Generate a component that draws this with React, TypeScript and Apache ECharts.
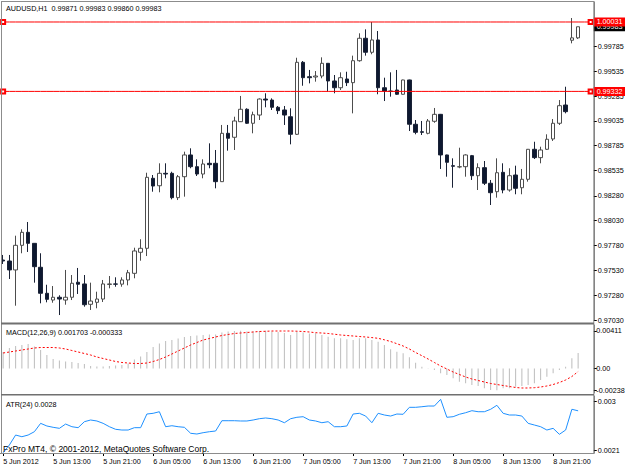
import React, { useEffect, useRef } from 'react';
import * as echarts from 'echarts';

const barTimes = [
  '5 Jun 05:00', '5 Jun 06:00', '5 Jun 07:00', '5 Jun 08:00', '5 Jun 09:00', '5 Jun 10:00', '5 Jun 11:00', '5 Jun 12:00',
  '5 Jun 13:00', '5 Jun 14:00', '5 Jun 15:00', '5 Jun 16:00', '5 Jun 17:00', '5 Jun 18:00', '5 Jun 19:00', '5 Jun 20:00',
  '5 Jun 21:00', '5 Jun 22:00', '5 Jun 23:00', '6 Jun 00:00', '6 Jun 01:00', '6 Jun 02:00', '6 Jun 03:00', '6 Jun 04:00',
  '6 Jun 05:00', '6 Jun 06:00', '6 Jun 07:00', '6 Jun 08:00', '6 Jun 09:00', '6 Jun 10:00', '6 Jun 11:00', '6 Jun 12:00',
  '6 Jun 13:00', '6 Jun 14:00', '6 Jun 15:00', '6 Jun 16:00', '6 Jun 17:00', '6 Jun 18:00', '6 Jun 19:00', '6 Jun 20:00',
  '6 Jun 21:00', '6 Jun 22:00', '6 Jun 23:00', '7 Jun 00:00', '7 Jun 01:00', '7 Jun 02:00', '7 Jun 03:00', '7 Jun 04:00',
  '7 Jun 05:00', '7 Jun 06:00', '7 Jun 07:00', '7 Jun 08:00', '7 Jun 09:00', '7 Jun 10:00', '7 Jun 11:00', '7 Jun 12:00',
  '7 Jun 13:00', '7 Jun 14:00', '7 Jun 15:00', '7 Jun 16:00', '7 Jun 17:00', '7 Jun 18:00', '7 Jun 19:00', '7 Jun 20:00',
  '7 Jun 21:00', '7 Jun 22:00', '7 Jun 23:00', '8 Jun 00:00', '8 Jun 01:00', '8 Jun 02:00', '8 Jun 03:00', '8 Jun 04:00',
  '8 Jun 05:00', '8 Jun 06:00', '8 Jun 07:00', '8 Jun 08:00', '8 Jun 09:00', '8 Jun 10:00', '8 Jun 11:00', '8 Jun 12:00',
  '8 Jun 13:00', '8 Jun 14:00', '8 Jun 15:00', '8 Jun 16:00', '8 Jun 17:00', '8 Jun 18:00', '8 Jun 19:00', '8 Jun 20:00',
  '8 Jun 21:00', '8 Jun 22:00', '8 Jun 23:00', '11 Jun 00:00', '11 Jun 01:00',
];

const dateTickLabels = [
  '5 Jun 2012', '5 Jun 13:00', '5 Jun 21:00', '6 Jun 05:00', '6 Jun 13:00', '6 Jun 21:00',
  '7 Jun 05:00', '7 Jun 13:00', '7 Jun 21:00', '8 Jun 05:00', '8 Jun 13:00', '8 Jun 21:00',
];

const opens = [
  0.97634, 0.97624, 0.97534, 0.97782, 0.97913, 0.97802, 0.97561, 0.97299, 0.97231, 0.97259,
  0.97231, 0.97259, 0.97410, 0.97393, 0.97188, 0.97208, 0.97241, 0.97388, 0.97393, 0.97391,
  0.97433, 0.97500, 0.97712, 0.97752, 0.98457, 0.98382, 0.98507, 0.98507, 0.98262, 0.98473,
  0.98692, 0.98574, 0.98500, 0.98608, 0.98608, 0.98423, 0.98910, 0.98870, 0.99027, 0.99152,
  0.99011, 0.99094, 0.99255, 0.99245, 0.99172, 0.99145, 0.99077, 0.98900, 0.99625, 0.99480,
  0.99477, 0.99487, 0.99615, 0.99437, 0.99369, 0.99457, 0.99420, 0.99641, 0.99867, 0.99726,
  0.99850, 0.99369, 0.99336, 0.99346, 0.99303, 0.99447, 0.99001, 0.98926, 0.98910, 0.99031,
  0.99101, 0.98692, 0.98584, 0.98571, 0.98574, 0.98685, 0.98483, 0.98564, 0.98407, 0.98322,
  0.98517, 0.98339, 0.98490, 0.98362, 0.98447, 0.98749, 0.98665, 0.98749, 0.98853, 0.99011,
  0.99195, 0.99847, 0.99871,
];

const highs = [
  0.97685, 0.97685, 0.97879, 0.97943, 0.98017, 0.97805, 0.97702, 0.97385, 0.97372, 0.97279,
  0.97534, 0.97483, 0.97554, 0.97483, 0.97406, 0.97315, 0.97433, 0.97473, 0.97460, 0.97460,
  0.97534, 0.97758, 0.97843, 0.98513, 0.98490, 0.98608, 0.98608, 0.98523, 0.98490, 0.98725,
  0.98759, 0.98648, 0.98648, 0.98809, 0.98742, 0.98994, 0.98994, 0.99077, 0.99286, 0.99162,
  0.99128, 0.99262, 0.99313, 0.99262, 0.99185, 0.99185, 0.99162, 0.99671, 0.99638, 0.99548,
  0.99537, 0.99675, 0.99615, 0.99497, 0.99524, 0.99530, 0.99692, 0.99917, 0.99957, 1.00031,
  0.99940, 0.99470, 0.99524, 0.99548, 0.99450, 0.99450, 0.99044, 0.99034, 0.99054, 0.99165,
  0.99105, 0.98695, 0.98658, 0.98765, 0.98699, 0.98692, 0.98608, 0.98631, 0.98440, 0.98658,
  0.98608, 0.98558, 0.98584, 0.98551, 0.98752, 0.98825, 0.98775, 0.98900, 0.99054, 0.99245,
  0.99379, 1.00071, 0.99983,
];

const lows = [
  0.97594, 0.97443, 0.97174, 0.97702, 0.97715, 0.97406, 0.97198, 0.97208, 0.97204, 0.97080,
  0.97184, 0.97231, 0.97292, 0.97164, 0.97131, 0.97148, 0.97211, 0.97349, 0.97365, 0.97365,
  0.97379, 0.97450, 0.97627, 0.97674, 0.98322, 0.98316, 0.98457, 0.98245, 0.98238, 0.98272,
  0.98558, 0.98480, 0.98457, 0.98558, 0.98356, 0.98420, 0.98735, 0.98742, 0.99024, 0.99004,
  0.98910, 0.99044, 0.99172, 0.99145, 0.99104, 0.98994, 0.98799, 0.98893, 0.99389, 0.99413,
  0.99430, 0.99464, 0.99329, 0.99313, 0.99346, 0.99386, 0.99111, 0.99631, 0.99692, 0.99706,
  0.99303, 0.99235, 0.99279, 0.99296, 0.99300, 0.98933, 0.98900, 0.98893, 0.98900, 0.99016,
  0.98551, 0.98473, 0.98362, 0.98558, 0.98473, 0.98440, 0.98339, 0.98389, 0.98188, 0.98262,
  0.98306, 0.98322, 0.98296, 0.98296, 0.98423, 0.98651, 0.98608, 0.98742, 0.98833, 0.98994,
  0.99111, 0.99816, 0.99860,
];

const closes = [
  0.97624, 0.97534, 0.97782, 0.97913, 0.97802, 0.97567, 0.97299, 0.97238, 0.97259, 0.97241,
  0.97259, 0.97400, 0.97390, 0.97184, 0.97221, 0.97241, 0.97393, 0.97393, 0.97391, 0.97433,
  0.97506, 0.97725, 0.97752, 0.98467, 0.98379, 0.98507, 0.98500, 0.98262, 0.98473, 0.98692,
  0.98574, 0.98500, 0.98601, 0.98594, 0.98423, 0.98910, 0.98860, 0.99034, 0.99152, 0.99011,
  0.99097, 0.99255, 0.99245, 0.99172, 0.99138, 0.99094, 0.98900, 0.99625, 0.99470, 0.99470,
  0.99487, 0.99615, 0.99437, 0.99369, 0.99470, 0.99420, 0.99641, 0.99867, 0.99726, 0.99850,
  0.99369, 0.99336, 0.99331, 0.99303, 0.99447, 0.99001, 0.98920, 0.98920, 0.99034, 0.99101,
  0.98692, 0.98618, 0.98578, 0.98574, 0.98692, 0.98483, 0.98564, 0.98407, 0.98312, 0.98513,
  0.98339, 0.98483, 0.98356, 0.98447, 0.98749, 0.98665, 0.98742, 0.98850, 0.99011, 0.99188,
  0.99128, 0.99871, 0.99983,
];

const macdMain = [
  0.00180, 0.00224, 0.00245, 0.00256, 0.00267, 0.00240, 0.00202, 0.00147, 0.00104, 0.00087,
  0.00076, 0.00071, 0.00060, 0.00049, 0.00027, 0.00022, 0.00022, 0.00027, 0.00033, 0.00038,
  0.00055, 0.00098, 0.00131, 0.00180, 0.00235, 0.00273, 0.00300, 0.00311, 0.00327, 0.00344,
  0.00355, 0.00360, 0.00365, 0.00371, 0.00371, 0.00393, 0.00404, 0.00409, 0.00411, 0.00405,
  0.00406, 0.00410, 0.00411, 0.00405, 0.00398, 0.00387, 0.00365, 0.00404, 0.00393, 0.00382,
  0.00384, 0.00365, 0.00347, 0.00329, 0.00329, 0.00319, 0.00311, 0.00329, 0.00329, 0.00311,
  0.00292, 0.00256, 0.00209, 0.00183, 0.00166, 0.00122, 0.00063, 0.00020, 0.00002, -0.00016,
  -0.00052, -0.00071, -0.00107, -0.00144, -0.00161, -0.00180, -0.00191, -0.00216, -0.00235, -0.00238,
  -0.00216, -0.00216, -0.00199, -0.00191, -0.00180, -0.00161, -0.00125, -0.00089, -0.00052, -0.00016,
  0.00020, 0.00111, 0.001703,
];

const macdSignal = [
  0.001691, 0.001800, 0.001909, 0.002018, 0.002127, 0.002237, 0.002291, 0.002291, 0.002291, 0.002237,
  0.002127, 0.001964, 0.001800, 0.001637, 0.001473, 0.001255, 0.001091, 0.000927, 0.000764, 0.000655,
  0.000600, 0.000546, 0.000546, 0.000600, 0.000764, 0.000982, 0.001255, 0.001582, 0.001909, 0.002237,
  0.002564, 0.002837, 0.003109, 0.003273, 0.003437, 0.003600, 0.003709, 0.003819, 0.003873, 0.003928,
  0.003982, 0.004037, 0.004059, 0.004091, 0.004091, 0.004091, 0.004091, 0.004069, 0.004037, 0.003982,
  0.003906, 0.003873, 0.003819, 0.003742, 0.003655, 0.003600, 0.003546, 0.003491, 0.003437, 0.003371,
  0.003295, 0.003131, 0.002946, 0.002706, 0.002455, 0.002127, 0.001746, 0.001396, 0.001036, 0.000655,
  0.000273, -0.000055, -0.000382, -0.000655, -0.000927, -0.001146, -0.001309, -0.001473, -0.001637, -0.001746,
  -0.001855, -0.001964, -0.002073, -0.002127, -0.002127, -0.002095, -0.002018, -0.001909, -0.001746, -0.001527,
  -0.001255, -0.000873, -0.000333,
];

const atr24 = [
  0.002050, 0.002192, 0.002375, 0.002344, 0.002375, 0.002436, 0.002590, 0.002541, 0.002517, 0.002498,
  0.002577, 0.002528, 0.002510, 0.002620, 0.002651, 0.002633, 0.002590, 0.002528, 0.002480, 0.002467,
  0.002467, 0.002510, 0.002510, 0.002761, 0.002774, 0.002803, 0.002528, 0.002546, 0.002528, 0.002517,
  0.002407, 0.002394, 0.002418, 0.002436, 0.002449, 0.002638, 0.002638, 0.002638, 0.002633, 0.002633,
  0.002651, 0.002675, 0.002688, 0.002675, 0.002651, 0.002601, 0.002675, 0.002701, 0.002712, 0.002651,
  0.002633, 0.002601, 0.002620, 0.002528, 0.002528, 0.002541, 0.002761, 0.002774, 0.002724, 0.002601,
  0.002774, 0.002743, 0.002724, 0.002761, 0.002756, 0.002884, 0.002884, 0.002895, 0.002908, 0.002908,
  0.003031, 0.002701, 0.002712, 0.002756, 0.002785, 0.002822, 0.002803, 0.002803, 0.002848, 0.002921,
  0.002774, 0.002743, 0.002743, 0.002724, 0.002590, 0.002559, 0.002528, 0.002467, 0.002498, 0.002388,
  0.002467, 0.002848, 0.002820,
];

const priceTickValues = [0.9703, 0.9728, 0.9753, 0.9778, 0.9803, 0.9828, 0.98535, 0.98785, 0.99035, 0.99285, 0.99535, 0.99785];
const macdTickValues = [0.00411, 0, -0.00238];
const macdTickLabels = ['0.00411', '0.00', '-0.00238'];
const atrTickValues = [0.003, 0.0021];
const atrTickLabels = ['0.003', '0.0021'];

const levelLines = [1.00031, 0.99332];
const bidPrice = 0.99983;

const titleText = 'AUDUSD,H1  0.99871 0.99983 0.99860 0.99983';
const macdText = 'MACD(12,26,9) 0.001703 -0.000333';
const atrText = 'ATR(24) 0.0028';
const copyrightText = 'FxPro MT4, \u00a9 2001-2012, MetaQuotes Software Corp.';

const FONT = '"Liberation Sans", Arial, sans-serif';
const FS = 7.2;

export default function App() {
  const ref = useRef<HTMLDivElement>(null);

  useEffect(() => {
    if (!ref.current) return;
    const chart = echarts.init(ref.current, null, { renderer: 'svg', width: 625, height: 469 });

    const cats = [...barTimes, '', ''];
    const band = 6.25;
    const plotW = cats.length * band;
    const candleData = opens.map((o, i) => [o, closes[i], lows[i], highs[i]]);

    const gridBase = { left: 0, width: plotW, outerBoundsMode: 'none', containLabel: false, show: false };
    const hiddenX = (gi: number) => ({
      type: 'category', gridIndex: gi, data: cats, boundaryGap: true, show: false,
    });
    const yCommon = {
      type: 'value', position: 'right',
      splitLine: { show: false },
      axisLine: { show: true, lineStyle: { color: '#808080', width: 1 } },
      axisTick: { show: true, length: 3, lineStyle: { color: '#000' } },
    };
    const labelStyle = { fontSize: FS, color: '#000', fontFamily: FONT };

    // horizontal price level drawn as a constant line across all bar slots
    const levelSeries = (value: number, color: string, visible: boolean, z: number) => ({
      type: 'line', xAxisIndex: 0, yAxisIndex: 0, z, silent: true,
      data: cats.map((_c, i) => ({
        value,
        symbol: visible && (i === 0 || i === cats.length - 1) ? 'emptyRect' : 'none',
      })),
      symbolSize: 4, showSymbol: true,
      itemStyle: { color },
      lineStyle: { color, width: 1, opacity: visible ? 1 : 0 },
      endLabel: {
        show: true, formatter: value.toFixed(5), distance: 3,
        backgroundColor: color, color: '#fff', padding: [1, 3, 0, 3],
        fontSize: FS, fontFamily: FONT, lineHeight: 8,
      },
    });

    const option: any = {
      animation: false,
      backgroundColor: '#ffffff',
      textStyle: { fontFamily: FONT },
      grid: [
        { ...gridBase, top: 2, height: 318 },
        { ...gridBase, top: 325, height: 68 },
        { ...gridBase, top: 396, height: 57 },
      ],
      xAxis: [
        hiddenX(0),
        hiddenX(1),
        {
          type: 'category', gridIndex: 2, data: cats, boundaryGap: true,
          axisLine: { show: true, lineStyle: { color: '#808080' } },
          axisTick: {
            show: true, alignWithLabel: true, length: 3,
            interval: (i: number) => i % 8 === 0 && i < barTimes.length,
            lineStyle: { color: '#000' },
          },
          axisLabel: {
            ...labelStyle, align: 'left', margin: 5,
            interval: (i: number) => i % 8 === 0 && i < barTimes.length,
            formatter: (_v: string, i: number) => dateTickLabels[i / 8] ?? '',
          },
          splitLine: { show: false },
        },
      ],
      yAxis: [
        {
          ...yCommon, gridIndex: 0, min: 0.9703, max: 1.0023226,
          axisTick: { ...yCommon.axisTick, customValues: priceTickValues },
          axisLabel: { ...labelStyle, margin: 4, customValues: priceTickValues, formatter: (v: number) => v.toFixed(5) },
        },
        {
          ...yCommon, gridIndex: 1, min: -0.002673, max: 0.004746,
          axisTick: { ...yCommon.axisTick, customValues: macdTickValues },
          axisLabel: {
            ...labelStyle, margin: 2.5, customValues: macdTickValues,
            formatter: (v: number) => macdTickLabels[macdTickValues.findIndex((t) => Math.abs(t - v) < 1e-7)] ?? '',
          },
        },
        {
          ...yCommon, gridIndex: 2, min: 0.002045, max: 0.003092,
          axisTick: { ...yCommon.axisTick, customValues: atrTickValues },
          axisLabel: {
            ...labelStyle, margin: 4, customValues: atrTickValues,
            formatter: (v: number) => atrTickLabels[atrTickValues.findIndex((t) => Math.abs(t - v) < 1e-7)] ?? '',
          },
        },
      ],
      series: [
        {
          type: 'candlestick', xAxisIndex: 0, yAxisIndex: 0, data: candleData, barWidth: 4, z: 2,
          itemStyle: { color: '#ffffff', color0: '#0d1830', borderColor: '#4d4d4d', borderColor0: '#1a2236', borderWidth: 1 },
        },
        levelSeries(bidPrice, '#000000', false, 3),
        ...levelLines.map((p) => levelSeries(p, '#ff0000', true, 4)),
        {
          type: 'bar', xAxisIndex: 1, yAxisIndex: 1, data: macdMain, barWidth: 1,
          itemStyle: { color: '#bcbcbc' },
        },
        {
          type: 'line', xAxisIndex: 1, yAxisIndex: 1, data: macdSignal, symbol: 'none',
          lineStyle: { color: '#ff0000', width: 1, type: [2, 2] },
        },
        {
          type: 'line', xAxisIndex: 2, yAxisIndex: 2, data: atr24, symbol: 'none',
          lineStyle: { color: '#1e90ff', width: 1 },
        },
      ],
      graphic: {
        elements: [
          { type: 'rect', z: 100, shape: { x: 1, y: 1, width: 593, height: 1 }, style: { fill: '#8c8c8c' } },
          { type: 'rect', z: 100, shape: { x: 1, y: 1, width: 1, height: 453 }, style: { fill: '#8c8c8c' } },
          { type: 'rect', z: 100, shape: { x: 593.3, y: 1, width: 1, height: 453 }, style: { fill: '#8c8c8c' } },
          { type: 'rect', z: 100, shape: { x: 1, y: 322.5, width: 593, height: 2 }, style: { fill: '#707070' } },
          { type: 'rect', z: 100, shape: { x: 1, y: 394, width: 593, height: 1.5 }, style: { fill: '#707070' } },
          { type: 'rect', z: 100, shape: { x: 1, y: 453, width: 593, height: 1 }, style: { fill: '#8c8c8c' } },
          { type: 'text', z: 100, x: 6, y: 8, style: { text: titleText, fontSize: FS, fontFamily: FONT, fill: '#000', verticalAlign: 'middle' } },
          { type: 'text', z: 100, x: 6, y: 332.7, style: { text: macdText, fontSize: FS, fontFamily: FONT, fill: '#000', verticalAlign: 'middle' } },
          { type: 'text', z: 100, x: 6, y: 404, style: { text: atrText, fontSize: FS, fontFamily: FONT, fill: '#000', verticalAlign: 'middle' } },
          { type: 'text', z: 100, x: 3, y: 449, style: { text: copyrightText, fontSize: 8.5, fontFamily: FONT, fill: '#000', verticalAlign: 'middle' } },
        ],
      },
    };

    chart.setOption(option);
    return () => chart.dispose();
  }, []);

  return (
    <div
      ref={ref}
      style={{ position: 'fixed', left: 0, top: 0, width: 625, height: 469, background: '#fff' }}
    />
  );
}
